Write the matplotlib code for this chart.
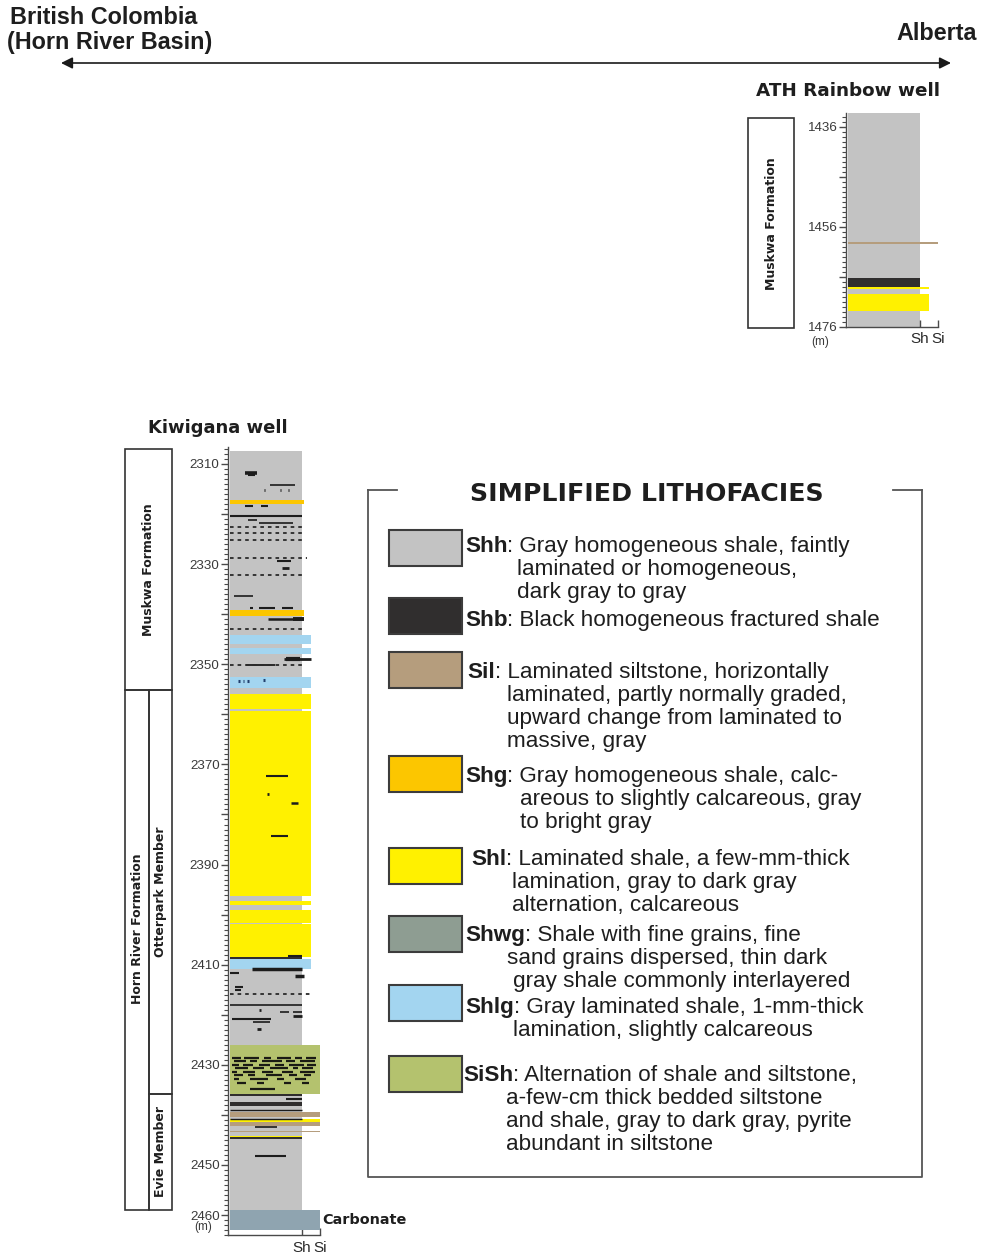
import matplotlib
matplotlib.use("Agg")
import matplotlib.pyplot as plt
from matplotlib.patches import Rectangle
from matplotlib.ticker import MultipleLocator
from matplotlib.transforms import blended_transform_factory

W, H = 982, 1254

# ---------------------------------------------------------------- palette
facies_names = ['Shh', 'Shb', 'Sil', 'Shg', 'Shl', 'Shwg', 'Shlg', 'SiSh', 'Carbonate']
facies_colors = ['#c3c3c3', '#302e2e', '#b59d7d', '#fcc600', '#fff100',
                 '#8e9d92', '#a3d5f0', '#b4c26e', '#8fa4b0']
COLOR = dict(zip(facies_names, facies_colors))

# grain-size scale along the bottom of each column
grain_ticks = [4, 5]
grain_labels = ['Sh', 'Si']

# ---------------------------------------------------------------- Kiwigana well
kiw_column = (2307.5, 2458.9)
kiw_top = [2317.2, 2339.2, 2344.2, 2346.7, 2352.5, 2356.0, 2359.4, 2397.2, 2399.1,
           2401.9, 2408.5, 2408.9, 2426.0, 2435.8, 2437.4, 2439.4, 2440.9, 2441.5,
           2443.2, 2444.2, 2444.5, 2458.9]
kiw_base = [2318.0, 2340.3, 2346.0, 2348.0, 2354.8, 2359.0, 2396.3, 2398.1, 2401.6,
            2408.5, 2408.9, 2410.9, 2435.8, 2436.3, 2438.2, 2440.4, 2441.5, 2442.3,
            2443.5, 2444.5, 2444.9, 2462.9]
kiw_facies = ['Shg', 'Shg', 'Shlg', 'Shlg', 'Shlg', 'Shl', 'Shl', 'Shl', 'Shl',
              'Shl', 'Shb', 'Shlg', 'SiSh', 'Shb', 'Shb', 'Sil', 'Shl', 'Sil',
              'Sil', 'Shl', 'Shb', 'Carbonate']
kiw_grain = [4.1, 4.1, 4.5, 4.5, 4.5, 4.5, 4.5, 4.5, 4.5,
             4.5, 4.0, 4.5, 5.0, 4.0, 4.0, 5.0, 5.0, 5.0,
             5.0, 4.0, 4.0, 5.0]

# thin dark laminae: (depth, from, to, weight)
kiw_solid_laminae = [
    (2311.7, 0.85, 1.5, 2.6), (2312.1, 1.0, 1.4, 1.5), (2314.2, 2.2, 3.6, 1.2),
    (2315.2, 1.9, 1.97, 2.0), (2315.2, 2.75, 2.85, 2.0), (2315.2, 3.2, 3.27, 2.0),
    (2318.3, 0.85, 1.3, 1.5), (2318.3, 1.7, 2.1, 1.5), (2320.4, 0.0, 4.0, 1.5),
    (2321.1, 1.0, 1.5, 1.2), (2321.7, 1.6, 3.5, 1.2), (2329.4, 2.6, 3.4, 1.5),
    (2330.8, 2.9, 3.3, 2.0), (2336.4, 0.2, 1.3, 1.2), (2338.7, 1.1, 1.3, 1.5),
    (2338.7, 1.6, 2.5, 1.5), (2338.7, 2.9, 3.5, 1.5), (2341.0, 2.1, 4.0, 1.8),
    (2340.9, 3.5, 4.1, 2.8), (2349.0, 3.0, 4.5, 2.0), (2348.9, 3.1, 3.9, 3.0),
    (2350.2, 0.9, 2.5, 1.3), (2372.3, 2.0, 3.2, 1.5), (2376.0, 2.05, 2.15, 2.0),
    (2377.8, 3.4, 3.8, 1.8), (2384.3, 2.3, 3.2, 1.5), (2408.2, 3.2, 4.0, 1.5),
    (2410.9, 1.2, 4.0, 2.5), (2411.7, 0.0, 0.5, 1.5), (2412.3, 3.6, 4.1, 2.5),
    (2414.4, 0.3, 0.7, 1.5), (2415.1, 0.3, 0.6, 1.5), (2418.1, 0.0, 4.0, 1.2),
    (2419.0, 1.6, 1.7, 2.0), (2419.5, 2.8, 3.3, 1.2), (2419.5, 3.5, 4.0, 1.2),
    (2420.2, 3.5, 4.0, 2.0), (2420.9, 0.1, 2.3, 1.5), (2421.5, 1.3, 2.2, 1.2),
    (2422.9, 1.5, 1.7, 2.0), (2436.9, 3.1, 4.0, 1.5), (2439.0, 0.0, 4.0, 1.0),
    (2440.9, 0.0, 4.0, 1.0), (2442.5, 1.4, 2.6, 1.2), (2448.2, 1.4, 3.1, 1.5),
]
kiw_dashed_laminae = [
    (2322.6, 0.0, 4.0), (2323.7, 0.0, 4.0), (2325.2, 0.0, 4.0), (2328.8, 0.0, 4.3),
    (2332.2, 0.0, 4.0), (2343.0, 0.0, 4.0), (2350.2, 0.0, 4.0), (2415.9, 0.0, 4.5),
]
kiw_blue_specks = [(2353.3, 0.45, 0.55), (2353.3, 0.7, 0.8), (2353.3, 0.95, 1.05),
                   (2353.2, 1.85, 1.95)]

# siltstone stringers inside the SiSh interval: (depth, [(from, to), ...])
kiw_sish_stringers = [
    (2428.6, [(0.1, 0.6), (0.8, 1.6), (1.9, 2.3), (2.6, 3.4), (3.6, 4.0), (4.2, 4.8)]),
    (2429.3, [(0.2, 0.9), (1.1, 1.5), (1.8, 2.9), (3.1, 3.6), (3.9, 4.7)]),
    (2430.0, [(0.1, 0.5), (0.7, 1.3), (1.6, 2.2), (2.5, 3.0), (3.3, 4.1), (4.3, 4.8)]),
    (2430.7, [(0.3, 1.0), (1.3, 1.9), (2.2, 3.2), (3.5, 3.8), (4.0, 4.6)]),
    (2431.4, [(0.1, 0.4), (0.7, 1.4), (1.8, 2.4), (2.9, 3.5), (3.9, 4.7)]),
    (2432.1, [(0.2, 0.7), (1.0, 1.4), (2.0, 2.9), (3.3, 3.7), (4.1, 4.5)]),
    (2432.9, [(0.2, 0.5), (1.1, 2.1), (2.6, 3.0), (3.6, 4.2)]),
    (2433.6, [(0.4, 0.9), (1.5, 1.9), (3.0, 3.4), (4.0, 4.4)]),
    (2434.9, [(1.1, 2.5)]),
]

kiw_labeled_ticks = [2310, 2330, 2350, 2370, 2390, 2410, 2430, 2450, 2460]
kiw_plain_ticks = [2320, 2340, 2360, 2380, 2400, 2420, 2440]

kiw_formations = ['Muskwa Formation', 'Horn River Formation']
kiw_formation_top = [2307.1, 2355.1]
kiw_formation_base = [2355.1, 2458.9]
kiw_members = ['Otterpark Member', 'Evie Member']
kiw_member_top = [2355.1, 2435.8]
kiw_member_base = [2435.8, 2458.9]

# ---------------------------------------------------------------- ATH Rainbow well
ath_column = (1433.3, 1476.0)
ath_top = [1459.0, 1466.2, 1468.0, 1469.5]
ath_base = [1459.4, 1468.0, 1468.5, 1472.8]
ath_facies = ['Sil', 'Shb', 'Shl', 'Shl']
ath_grain = [5.0, 4.0, 4.5, 4.5]
ath_labeled_ticks = [1436, 1456, 1476]
ath_plain_ticks = [1446, 1466]
ath_formation = 'Muskwa Formation'
ath_formation_top = 1434.3
ath_formation_base = 1476.3

# ---------------------------------------------------------------- legend text
legend_codes = ['Shh', 'Shb', 'Sil', 'Shg', 'Shl', 'Shwg', 'Shlg', 'SiSh']
legend_first = [
    ': Gray homogeneous shale, faintly',
    ': Black homogeneous fractured shale',
    ': Laminated siltstone, horizontally',
    ': Gray homogeneous shale, calc-',
    ': Laminated shale, a few-mm-thick',
    ': Shale with fine grains, fine',
    ': Gray laminated shale, 1-mm-thick',
    ': Alternation of shale and siltstone,',
]
legend_more = [
    ['laminated or homogeneous,', 'dark gray to gray'],
    [],
    ['laminated, partly normally graded,', 'upward change from laminated to', 'massive, gray'],
    ['areous to slightly calcareous, gray', 'to bright gray'],
    ['lamination, gray to dark gray', 'alternation, calcareous'],
    ['sand grains dispersed, thin dark', 'gray shale commonly interlayered'],
    ['lamination, slightly calcareous'],
    ['a-few-cm thick bedded siltstone', 'and shale, gray to dark gray, pyrite',
     'abundant in siltstone'],
]

# ================================================================ drawing
HEAD = ['DejaVu Sans']
BODY = ['Liberation Sans', 'DejaVu Sans']
NARROW = ['Liberation Sans Narrow', 'Liberation Sans', 'DejaVu Sans']
INK = '#1e1e1e'
AXC = '#4a4a4a'

fig = plt.figure(figsize=(W / 100, H / 100), dpi=100)
fig.patch.set_facecolor('white')
bg = fig.add_axes([0, 0, 1, 1])
bg.set_xlim(0, W)
bg.set_ylim(H, 0)
bg.axis('off')
renderer = fig.canvas.get_renderer()

UNIT_PX = 18.0          # pixels per grain-size unit
XMIN, XMAX = -0.12, 5.6


def well_axes(x0_px, depth_top, depth_base, ref_depth, ref_px, px_per_m):
    top_px = ref_px - (ref_depth - depth_top) * px_per_m
    bot_px = ref_px + (depth_base - ref_depth) * px_per_m
    left_px = x0_px + XMIN * UNIT_PX
    ax = fig.add_axes([left_px / W, 1 - bot_px / H,
                       (XMAX - XMIN) * UNIT_PX / W, (bot_px - top_px) / H])
    ax.patch.set_alpha(0)
    ax.set_xlim(XMIN, XMAX)
    ax.set_ylim(depth_base, depth_top)
    return ax


def style_axes(ax, labeled, plain):
    ticks = sorted(labeled + plain)
    ax.set_yticks(ticks, [str(t) if t in labeled else '' for t in ticks])
    ax.yaxis.set_minor_locator(MultipleLocator(1))
    ax.tick_params(axis='y', which='major', direction='out', length=5, width=1.0,
                   color=AXC, labelsize=9.6, labelcolor='#3a3a3a', pad=1)
    ax.tick_params(axis='y', which='minor', direction='out', length=2.6, width=0.8,
                   color=AXC)
    for lab in ax.get_yticklabels():
        lab.set_family(BODY)
    ax.set_xticks(grain_ticks, grain_labels)
    ax.tick_params(axis='x', which='both', direction='in', length=5, width=1.0,
                   color=AXC, labelsize=11, labelcolor='#2a2a2a', pad=4)
    for lab in ax.get_xticklabels():
        lab.set_family(BODY)
    ax.xaxis.set_minor_locator(plt.NullLocator())
    for s in ('top', 'right'):
        ax.spines[s].set_visible(False)
    ax.spines['left'].set_color(AXC)
    ax.spines['bottom'].set_color(AXC)
    ax.spines['left'].set_linewidth(1.0)
    ax.spines['bottom'].set_linewidth(1.0)
    ax.spines['bottom'].set_bounds(XMIN, 5)


def draw_column(ax, column, tops, bases, facies, grain):
    ax.barh((column[0] + column[1]) / 2, 4, height=column[1] - column[0], left=0,
            color=COLOR['Shh'], linewidth=0, zorder=1)
    for t, b, f, g in zip(tops, bases, facies, grain):
        ax.barh((t + b) / 2, g, height=b - t, left=0, color=COLOR[f],
                linewidth=0, zorder=2)


# ---------------- Kiwigana
ax_k = well_axes(230, 2306.6, 2464.0, 2310, 464, 5.007)
draw_column(ax_k, kiw_column, kiw_top, kiw_base, kiw_facies, kiw_grain)
for d, x0, x1, w in kiw_solid_laminae:
    ax_k.hlines(d, x0, x1, colors='#1c1c1c', linewidth=w, zorder=3)
for d, x0, x1 in kiw_dashed_laminae:
    ax_k.hlines(d, x0, x1, colors='#2a2a2a', linewidth=1.3,
                linestyles=(0, (2.0, 2.2)), zorder=3)
for d, x0, x1 in kiw_blue_specks:
    ax_k.hlines(d, x0, x1, colors='#22406e', linewidth=2.2, zorder=3)
for d, segs in kiw_sish_stringers:
    for x0, x1 in segs:
        ax_k.hlines(d, x0, x1, colors='#1a1a14', linewidth=1.6, zorder=3)
style_axes(ax_k, kiw_labeled_ticks, kiw_plain_ticks)
ax_k.text(5.1, 2460.9, 'Carbonate', family=HEAD, fontweight='bold', fontsize=10.4,
          color=INK, va='center', ha='left', clip_on=False)

tk = blended_transform_factory(bg.transData, ax_k.transData)
for name, t, b in zip(kiw_formations, kiw_formation_top, kiw_formation_base):
    if name.startswith('Muskwa'):
        ax_k.add_patch(Rectangle((125, t), 47.5, b - t, transform=tk, fill=False,
                                 ec='#333333', lw=1.2, clip_on=False))
        ax_k.text(149, (t + b) / 2, name, transform=tk, rotation=90, ha='center',
                  va='center', family=HEAD, fontweight='bold', fontsize=9, color=INK)
    else:
        ax_k.add_patch(Rectangle((125, t), 24, b - t, transform=tk, fill=False,
                                 ec='#333333', lw=1.2, clip_on=False))
        ax_k.text(137.5, t + (b - t) * 0.46, name, transform=tk, rotation=90,
                  ha='center', va='center', family=HEAD, fontweight='bold',
                  fontsize=9, color=INK)
for name, t, b in zip(kiw_members, kiw_member_top, kiw_member_base):
    ax_k.add_patch(Rectangle((149, t), 23.5, b - t, transform=tk, fill=False,
                             ec='#333333', lw=1.2, clip_on=False))
    ax_k.text(161, (t + b) / 2, name, transform=tk, rotation=90, ha='center',
              va='center', family=HEAD, fontweight='bold', fontsize=9, color=INK)

bg.text(203, 1227, '(m)', family=BODY, fontsize=8.5, color='#3a3a3a', ha='center', va='center')
bg.text(218, 428, 'Kiwigana well', family=HEAD, fontweight='bold', fontsize=13,
        color=INK, ha='center', va='center')

# ---------------- ATH Rainbow
ax_a = well_axes(848, 1433.2, 1476.0, 1436, 126.7, 5.0)
draw_column(ax_a, ath_column, ath_top, ath_base, ath_facies, ath_grain)
style_axes(ax_a, ath_labeled_ticks, ath_plain_ticks)
ta = blended_transform_factory(bg.transData, ax_a.transData)
ax_a.add_patch(Rectangle((748.5, ath_formation_top), 45.5,
                         ath_formation_base - ath_formation_top, transform=ta,
                         fill=False, ec='#333333', lw=1.2, clip_on=False))
ax_a.text(771.5, (ath_formation_top + ath_formation_base) / 2, ath_formation,
          transform=ta, rotation=90, ha='center', va='center', family=HEAD,
          fontweight='bold', fontsize=9, color=INK)
bg.text(820, 342, '(m)', family=BODY, fontsize=8.5, color='#3a3a3a', ha='center', va='center')
bg.text(848, 91, 'ATH Rainbow well', family=HEAD, fontweight='bold', fontsize=13.2,
        color=INK, ha='center', va='center')

# ---------------- regional transect header
bg.text(10, 18, 'British Colombia', family=NARROW, fontweight='bold', fontsize=16.8,
        color=INK, ha='left', va='center')
bg.text(7, 42, '(Horn River Basin)', family=NARROW, fontweight='bold', fontsize=16.8,
        color=INK, ha='left', va='center')
bg.text(977, 33, 'Alberta', family=NARROW, fontweight='bold', fontsize=16.8,
        color=INK, ha='right', va='center')
bg.annotate('', xy=(951, 63), xytext=(61, 63),
            arrowprops=dict(arrowstyle='<|-|>', color='#1a1a1a', lw=1.2,
                            mutation_scale=17, shrinkA=0, shrinkB=0))

# ---------------- legend
FR = '#555555'
bg.plot([368, 368, 922, 922], [490, 1177, 1177, 490], color=FR, lw=1.3)
bg.plot([368, 397], [490, 490], color=FR, lw=1.3)
bg.plot([893, 922], [490, 490], color=FR, lw=1.3)
bg.text(647, 494, 'SIMPLIFIED LITHOFACIES', family=HEAD, fontweight='bold',
        fontsize=18.2, color=INK, ha='center', va='center')

swatch_top = [530, 598, 652, 756, 848, 916, 985, 1056]
code_x = [465, 465, 467, 465, 471, 465, 465, 463]
first_y = [552, 626, 678, 782, 865, 941, 1013, 1081]   # baselines
more_x = [[517, 517], [], [507, 507, 507], [520, 520], [512, 512], [507, 513],
          [513], [506, 506, 506]]
LINE = 23
FS = 16.2
for i, code in enumerate(legend_codes):
    bg.add_patch(Rectangle((389, swatch_top[i]), 73, 36, facecolor=COLOR[code],
                           edgecolor='#3c3c3c', lw=1.5))
    t = bg.text(code_x[i], first_y[i], code, family=BODY, fontweight='bold',
                fontsize=FS, color=INK, ha='left', va='baseline')
    x_end = t.get_window_extent(renderer).x1
    bg.text(x_end, first_y[i], legend_first[i], family=BODY, fontsize=FS,
            color=INK, ha='left', va='baseline')
    for j, line in enumerate(legend_more[i]):
        bg.text(more_x[i][j], first_y[i] + LINE * (j + 1), line, family=BODY,
                fontsize=FS, color=INK, ha='left', va='baseline')

fig.savefig('out.png', dpi=100, facecolor='white')
